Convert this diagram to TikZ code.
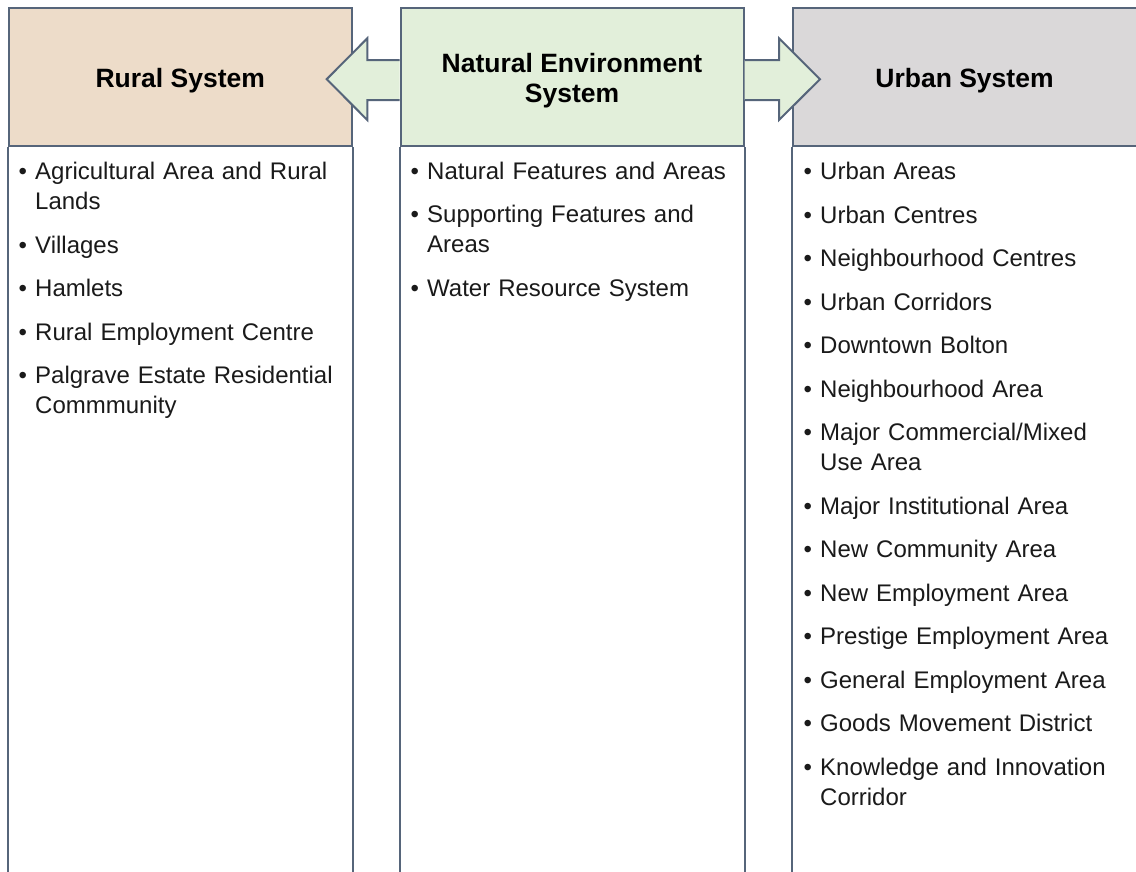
\documentclass[tikz,border=0pt]{standalone}
\usepackage{fontspec}
\setmainfont{Liberation Sans}
\definecolor{ruralc}{HTML}{EDDCC9}
\definecolor{naturec}{HTML}{E2EFDA}
\definecolor{urbanc}{HTML}{DAD8D9}
\definecolor{linec}{HTML}{56657A}
\definecolor{textc}{HTML}{1A1A1A}
\newcommand\bi[1]{\hangindent=15pt\hangafter=1 \makebox[15pt][l]{\hspace{-1.5pt}•}#1\par}
\newcommand\nl{\hfil\break\ignorespaces}
\tikzset{
  hdr/.style={draw=linec, line width=2pt, minimum height=138pt, inner sep=0pt},
  hdrlabel/.style={align=center, text=black, inner sep=0pt, yshift=-3.5pt,
    font=\bfseries\fontsize{26.5}{30}\selectfont},
  colline/.style={draw=linec, line width=2pt},
  bodytext/.style={anchor=base west, text width=330pt, align=left, inner sep=0pt,
    text=textc, font=\fontsize{24}{30}\selectfont},
  arrowfill/.style={fill=naturec},
  arrowline/.style={draw=linec, line width=2pt, line join=miter}
}
\begin{document}
\begin{tikzpicture}[x=1pt,y=-1pt]
\useasboundingbox[fill=white] (0,0) rectangle (1136,871);
% headers
\node[hdr, fill=ruralc, minimum width=343.5pt] (rural) at (180.25,77) {};
\node[hdr, fill=naturec, minimum width=343pt] (nature) at (572,77) {};
\node[hdr, fill=urbanc, minimum width=346pt] (urban) at (965.5,77) {};
\node[hdrlabel] (ruraltitle) at (rural.center) {Rural System};
\node[hdrlabel] (naturetitle) at (nature.center) {Natural Environment\\System};
\node[hdrlabel] (urbantitle) at ([xshift=-1pt]urban.center) {Urban System};
% column lines
\draw[colline] (rural.south west) -- ++(0,740);
\draw[colline] (rural.south east) -- ++(0,740);
\draw[colline] (nature.south west) -- ++(0,740);
\draw[colline] (nature.south east) -- ++(0,740);
\draw[colline] (urban.south west) -- ++(0,740);
% arrows
\coordinate (la1) at (nature.west |- 0,60);
\coordinate (la2) at (nature.west |- 0,100);
\coordinate (ra1) at (nature.east |- 0,60);
\coordinate (ra2) at (nature.east |- 0,100);
\fill[arrowfill] (la1) -- (367.3,60) -- (367.3,38.3) -- (326.7,79.2) -- (367.3,120) -- (367.3,100) -- (la2) -- cycle;
\draw[arrowline] (la1) -- (367.3,60) -- (367.3,38.3) -- (326.7,79.2) -- (367.3,120) -- (367.3,100) -- (la2);
\fill[arrowfill] (ra1) -- (779,60) -- (779,38.3) -- (820,79.2) -- (779,120) -- (779,100) -- (ra2) -- cycle;
\draw[arrowline] (ra1) -- (779,60) -- (779,38.3) -- (820,79.2) -- (779,120) -- (779,100) -- (ra2);
% body texts
\node[bodytext] (ruraltext) at (20,179.5) {\setlength{\parskip}{13.5pt}%
\bi{Agricultural Area and Rural\nl Lands}%
\bi{Villages}%
\bi{Hamlets}%
\bi{Rural Employment Centre}%
\bi{Palgrave Estate Residential\nl Commmunity}};
\node[bodytext] (naturetext) at (412,179) {\setlength{\parskip}{13.5pt}%
\bi{Natural Features and Areas}%
\bi{Supporting Features and\nl Areas}%
\bi{Water Resource System}};
\node[bodytext] (urbantext) at (805,179.5) {\setlength{\parskip}{13.5pt}%
\bi{Urban Areas}%
\bi{Urban Centres}%
\bi{Neighbourhood Centres}%
\bi{Urban Corridors}%
\bi{Downtown Bolton}%
\bi{Neighbourhood Area}%
\bi{Major Commercial/Mixed\nl Use Area}%
\bi{Major Institutional Area}%
\bi{New Community Area}%
\bi{New Employment Area}%
\bi{Prestige Employment Area}%
\bi{General Employment Area}%
\bi{Goods Movement District}%
\bi{Knowledge and Innovation\nl Corridor}};
\end{tikzpicture}
\end{document}
